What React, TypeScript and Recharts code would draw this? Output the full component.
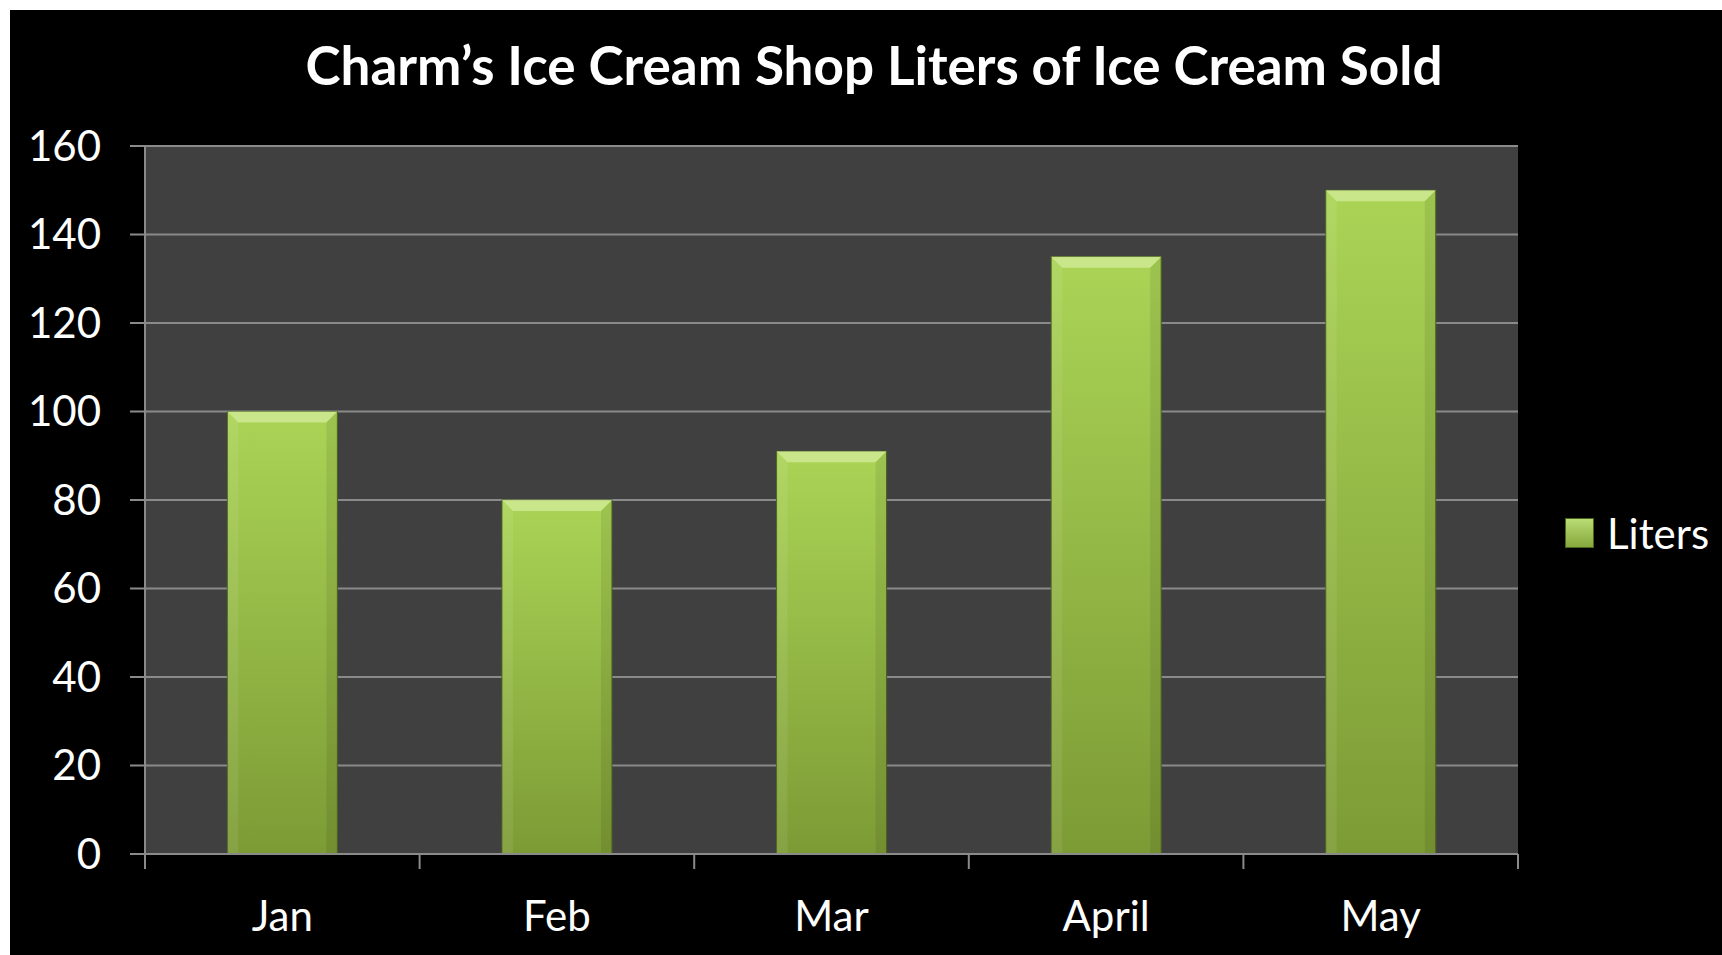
import React from 'react';
import {
  BarChart,
  Bar,
  XAxis,
  YAxis,
  CartesianGrid,
  Legend
} from 'recharts';

const months = ['Jan', 'Feb', 'Mar', 'April', 'May'];
const liters = [100, 80, 91, 135, 150];
const yTicks = [0, 20, 40, 60, 80, 100, 120, 140, 160];

const chartData = months.map((month, i) => ({ month, liters: liters[i] }));

const W = 1712;
const H = 945;
const plotLeft = 135;
const plotRight = 1508;
const halfBand = (plotRight - plotLeft) / months.length / 2;
const font = 'Lato, "Open Sans", sans-serif';

function BevelBar(props: any) {
  const { x, y, width, height } = props;
  if (!height || height <= 0) return null;
  const b = 11;
  return (
    <g>
      <rect x={x} y={y} width={width} height={height} fill="url(#barFill)" stroke="#4d6320" strokeWidth={1} />
      <polygon
        points={`${x},${y} ${x + width},${y} ${x + width - b},${y + b} ${x + b},${y + b}`}
        fill="#d3ec9c"
        opacity={0.75}
      />
      <polygon
        points={`${x},${y} ${x + b},${y + b} ${x + b},${y + height} ${x},${y + height}`}
        fill="#ffffff"
        opacity={0.08}
      />
      <polygon
        points={`${x + width},${y} ${x + width - b},${y + b} ${x + width - b},${y + height} ${x + width},${y + height}`}
        fill="#000000"
        opacity={0.08}
      />
    </g>
  );
}

function MonthTick(props: any) {
  const { x, y, payload, index } = props;
  const last = index === months.length - 1;
  return (
    <g>
      <line x1={x - halfBand} y1={y} x2={x - halfBand} y2={y + 15} stroke="#8a8a8a" strokeWidth={2} />
      {last && <line x1={x + halfBand} y1={y} x2={x + halfBand} y2={y + 15} stroke="#8a8a8a" strokeWidth={2} />}
      <text x={x} y={y + 77} textAnchor="middle" fill="#ffffff" fontSize={42} fontFamily={font}>
        {payload.value}
      </text>
    </g>
  );
}

function renderLegend() {
  return (
    <div style={{ display: 'flex', alignItems: 'center', fontFamily: font }}>
      <span
        style={{
          display: 'inline-block',
          width: 27,
          height: 28,
          background: 'linear-gradient(#b9dc74, #86a83c)',
          border: '1px solid #4d6320',
          marginRight: 13
        }}
      />
      <span style={{ color: '#ffffff', fontSize: 42 }}>Liters</span>
    </div>
  );
}

export default function App() {
  return (
    <div style={{ position: 'absolute', left: 10, top: 10, width: W, height: H, background: '#000000' }}>
      <div
        style={{
          position: 'absolute',
          left: 0,
          top: 20,
          width: 1728,
          textAlign: 'center',
          color: '#ffffff',
          fontFamily: font,
          fontWeight: 700,
          fontSize: 53,
          lineHeight: '70px',
          whiteSpace: 'nowrap'
        }}
      >
        Charm’s Ice Cream Shop Liters of Ice Cream Sold
      </div>
      <BarChart
        width={W}
        height={H}
        data={chartData}
        margin={{ top: 136, right: W - plotRight, left: 0, bottom: 41 }}
        barCategoryGap="30%"
      >
        <defs>
          <linearGradient id="barFill" x1="0" y1="0" x2="0" y2="1">
            <stop offset="0%" stopColor="#abd456" />
            <stop offset="100%" stopColor="#7c9b35" />
          </linearGradient>
        </defs>
        <CartesianGrid vertical={false} fill="#404040" stroke="#8a8a8a" strokeWidth={2} />
        <XAxis
          dataKey="month"
          height={60}
          tickSize={0}
          tickMargin={0}
          axisLine={{ stroke: '#8a8a8a', strokeWidth: 2 }}
          tick={<MonthTick />}
          interval={0}
        />
        <YAxis
          width={plotLeft}
          domain={[0, 160]}
          ticks={yTicks}
          tickSize={15}
          tickMargin={29}
          axisLine={{ stroke: '#8a8a8a', strokeWidth: 2 }}
          tickLine={{ stroke: '#8a8a8a', strokeWidth: 2 }}
          tick={{ fill: '#ffffff', fontSize: 42, fontFamily: font }}
        />
        <Legend
          layout="horizontal"
          verticalAlign="middle"
          align="center"
          content={renderLegend}
          wrapperStyle={{ left: 1555, top: 498, width: 160, right: 'auto', bottom: 'auto' }}
        />
        <Bar dataKey="liters" name="Liters" shape={<BevelBar />} isAnimationActive={false} />
      </BarChart>
    </div>
  );
}
